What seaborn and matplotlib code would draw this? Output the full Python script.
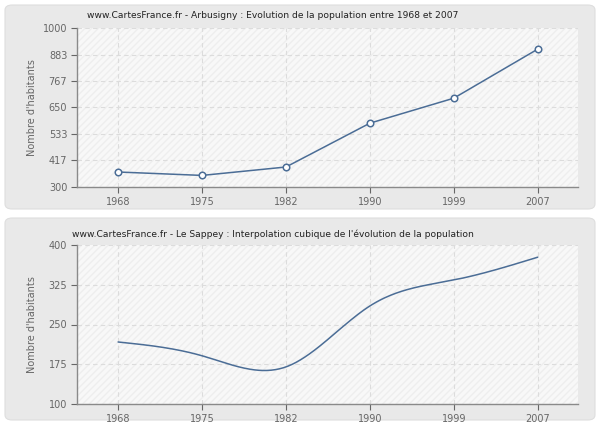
import numpy as np
import pandas as pd
import matplotlib
matplotlib.use("Agg")
import matplotlib.pyplot as plt
from matplotlib.patches import FancyBboxPatch, Rectangle
import seaborn as sns

# ---- data ----
years = ["1968", "1975", "1982", "1990", "1999", "2007"]
arbusigny = [366, 351, 388, 581, 691, 907]
sappey = [217, 191, 170, 285, 334, 377]
top_ticks = [300, 417, 533, 650, 767, 883, 1000]
bot_ticks = [100, 175, 250, 325, 400]
title_top = "www.CartesFrance.fr - Arbusigny : Evolution de la population entre 1968 et 2007"
title_bot = "www.CartesFrance.fr - Le Sappey : Interpolation cubique de l'évolution de la population"
ylabel = "Nombre d'habitants"

sns.set_style("white")
plt.rcParams['font.family'] = ['DejaVu Sans']

W, H = 598, 425
fig = plt.figure(figsize=(W / 100, H / 100), dpi=100)
fig.patch.set_facecolor("white")

LINE = "#4b6d96"
GRID = "#dcdcdc"
TICKC = "#666666"


def natural_spline(x, y, n=300):
    x = np.asarray(x, float)
    y = np.asarray(y, float)
    k = len(x)
    h = np.diff(x)
    A = np.zeros((k, k))
    b = np.zeros(k)
    A[0, 0] = 1
    A[-1, -1] = 1
    for i in range(1, k - 1):
        A[i, i - 1] = h[i - 1]
        A[i, i] = 2 * (h[i - 1] + h[i])
        A[i, i + 1] = h[i]
        b[i] = 3 * ((y[i + 1] - y[i]) / h[i] - (y[i] - y[i - 1]) / h[i - 1])
    c = np.linalg.solve(A, b)
    xs = np.linspace(x[0], x[-1], n)
    ys = np.empty_like(xs)
    for j, xv in enumerate(xs):
        i = min(np.searchsorted(x, xv, side="right") - 1, k - 2)
        dx = xv - x[i]
        bi = (y[i + 1] - y[i]) / h[i] - h[i] * (2 * c[i] + c[i + 1]) / 3
        di = (c[i + 1] - c[i]) / (3 * h[i])
        ys[j] = y[i] + bi * dx + c[i] * dx ** 2 + di * dx ** 3
    return xs, ys


def panel_box(y0, y1):
    p = FancyBboxPatch((5 / W, 1 - y1 / H), 590 / W, (y1 - y0) / H,
                       boxstyle="round,pad=0,rounding_size=0.012",
                       transform=fig.transFigure, facecolor="#e9e9e9",
                       edgecolor="#dedede", linewidth=0.8, zorder=-5)
    fig.patches.append(p)


def style_axes(ax, ticks):
    ax.set_facecolor("#f8f8f8")
    r = Rectangle((0, 0), 1, 1, transform=ax.transAxes, facecolor="none",
                  edgecolor="#eeeeee", hatch="/////", linewidth=0, zorder=0)
    ax.add_patch(r)
    ax.set_xlim(-0.49, 5.48)
    ax.set_ylim(ticks[0], ticks[-1])
    ax.set_xticks(range(len(years)))
    ax.set_xticklabels(years)
    ax.set_yticks(ticks)
    ax.set_yticklabels([str(t) for t in ticks])
    ax.grid(True, color=GRID, linestyle=(0, (4, 3)), linewidth=0.8)
    ax.set_axisbelow(True)
    for s in ["top", "right"]:
        ax.spines[s].set_visible(False)
    for s in ["left", "bottom"]:
        ax.spines[s].set_color("#8a8a8a")
        ax.spines[s].set_linewidth(1.0)
    ax.tick_params(axis="both", colors=TICKC, labelsize=7, length=4,
                   width=0.8, direction="out", pad=3, left=True, bottom=True)
    ax.set_ylabel(ylabel, color=TICKC, fontsize=7)
    ax.yaxis.set_label_coords(-0.08, 0.5)
    ax.set_xlabel("")


panel_box(5, 209)
panel_box(218, 420)

ax1 = fig.add_axes([77 / W, 1 - 187 / H, 501 / W, 159 / H])
ax2 = fig.add_axes([77 / W, 1 - 404 / H, 501 / W, 159 / H])

idx = np.arange(len(years))
df1 = pd.DataFrame({"x": idx, "y": arbusigny})
sns.lineplot(data=df1, x="x", y="y", ax=ax1, color=LINE, linewidth=1.1, zorder=3)
sns.scatterplot(data=df1, x="x", y="y", ax=ax1, s=22, color="white",
                edgecolor=LINE, linewidth=1.1, zorder=4)
style_axes(ax1, top_ticks)

xs, ys = natural_spline(idx, sappey)
df2 = pd.DataFrame({"x": xs, "y": ys})
sns.lineplot(data=df2, x="x", y="y", ax=ax2, color=LINE, linewidth=1.1, zorder=3)
style_axes(ax2, bot_ticks)

fig.text(273 / W, 1 - 16 / H, title_top, ha="center", va="center",
         fontsize=6.6, color="#222222")
fig.text(273 / W, 1 - 234 / H, title_bot, ha="center", va="center",
         fontsize=6.6, color="#222222")

fig.savefig("out.png", dpi=100, facecolor=fig.get_facecolor())
